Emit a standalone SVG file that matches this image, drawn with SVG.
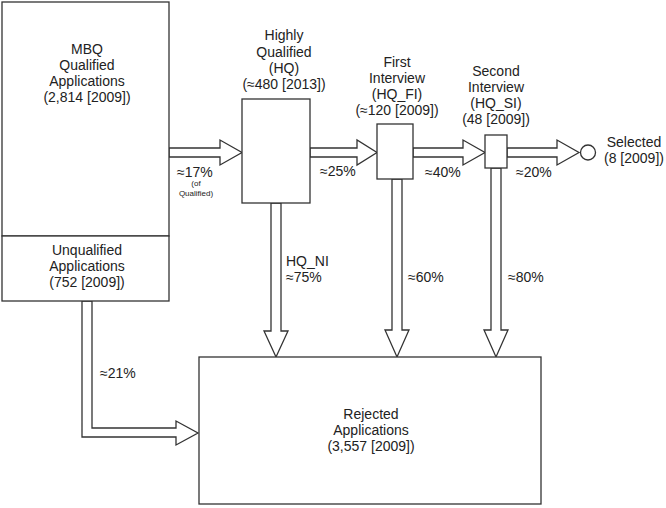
<svg xmlns="http://www.w3.org/2000/svg" width="666" height="508" viewBox="0 0 666 508">
<style>
.box{fill:#fff;stroke:#333;stroke-width:1.3}
.arr{fill:#fff;stroke:#333;stroke-width:1.3;stroke-linejoin:miter}
text{font-family:"Liberation Sans",Arial,sans-serif;font-size:14px;fill:#222}
.c{text-anchor:middle}
.s{font-size:8px}
</style>
<rect width="666" height="508" fill="#fff"/>
<g id="connectors">
<polygon class="arr" points="169,148 220,148 220,140 242,152.5 220,165 220,157 169,157"/>
<polygon class="arr" points="310,148 357,148 357,140 377,152.5 357,165 357,157 310,157"/>
<polygon class="arr" points="413,148 463,148 463,140 485,152.5 463,165 463,157 413,157"/>
<polygon class="arr" points="507,148 557,148 557,140 579,152.5 557,165 557,157 507,157"/>
<polygon class="arr" points="271,203 271,331 264,331 276,357 288,331 281,331 281,203"/>
<polygon class="arr" points="392,179 392,330 385,330 397,357 409,330 402,330 402,179"/>
<polygon class="arr" points="491,168 491,330 484,330 496,357 508,330 501,330 501,168"/>
<polygon class="arr" points="82,301 82,437 176,437 176,445 198,433 176,421 176,428 92,428 92,301"/>
<text x="177" y="177">≈17%</text>
<text class="c s" x="196" y="186">(of</text>
<text class="c s" x="196" y="196">Qualified)</text>
<text x="320" y="176">≈25%</text>
<text x="425" y="177">≈40%</text>
<text x="516" y="177">≈20%</text>
<text x="286" y="266">HQ_NI</text>
<text x="286" y="282">≈75%</text>
<text x="408" y="282">≈60%</text>
<text x="508" y="282">≈80%</text>
<text x="100" y="378">≈21%</text>
</g>
<g id="qualified">
<rect class="box" x="2" y="2" width="167" height="234"/>
<text class="c" x="87" y="54">MBQ</text>
<text class="c" x="87" y="70">Qualified</text>
<text class="c" x="87" y="86">Applications</text>
<text class="c" x="87" y="102">(2,814 [2009])</text>
</g>
<g id="unqualified">
<rect class="box" x="2" y="236" width="167" height="65"/>
<text class="c" x="87" y="255">Unqualified</text>
<text class="c" x="87" y="271">Applications</text>
<text class="c" x="87" y="287">(752 [2009])</text>
</g>
<g id="hq">
<rect class="box" x="242" y="99" width="68" height="104"/>
<text class="c" x="284" y="40">Highly</text>
<text class="c" x="284" y="57">Qualified</text>
<text class="c" x="284" y="73">(HQ)</text>
<text class="c" x="284" y="89">(≈480 [2013])</text>
</g>
<g id="hq_fi">
<rect class="box" x="377" y="124" width="36" height="55"/>
<text class="c" x="397" y="67">First</text>
<text class="c" x="397" y="83">Interview</text>
<text class="c" x="397" y="99">(HQ_FI)</text>
<text class="c" x="397" y="115">(≈120 [2009])</text>
</g>
<g id="hq_si">
<rect class="box" x="485" y="135" width="22" height="33"/>
<text class="c" x="496" y="76">Second</text>
<text class="c" x="496" y="92">Interview</text>
<text class="c" x="496" y="108">(HQ_SI)</text>
<text class="c" x="496" y="124">(48 [2009])</text>
</g>
<g id="selected">
<circle class="box" cx="588" cy="152.5" r="7.5"/>
<text class="c" x="634" y="147">Selected</text>
<text class="c" x="634" y="163">(8 [2009])</text>
</g>
<g id="rejected">
<rect class="box" x="199" y="357" width="342" height="147"/>
<text class="c" x="371" y="419">Rejected</text>
<text class="c" x="371" y="435">Applications</text>
<text class="c" x="371" y="451">(3,557 [2009])</text>
</g>
</svg>
